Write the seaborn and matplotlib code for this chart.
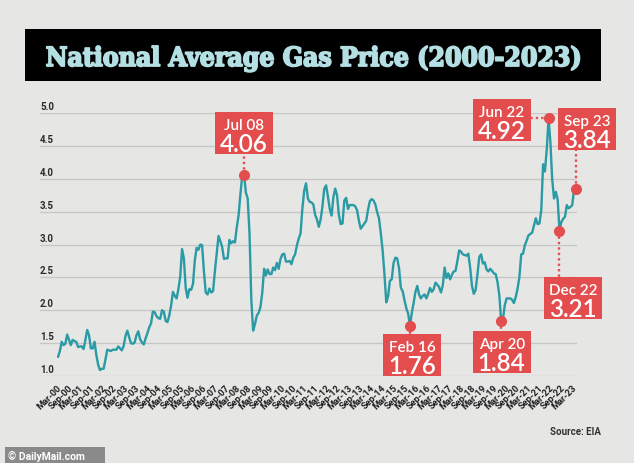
import numpy as np
import pandas as pd
import matplotlib
matplotlib.use('Agg')
import matplotlib.pyplot as plt
import matplotlib.transforms as mtrans
import matplotlib.patheffects as pe
from matplotlib.patches import Rectangle
import seaborn as sns

# monthly national average, regular gas ($/gal), Jan 2000 - Sep 2023
start = '2000-01'
price = [
    1.29, 1.38, 1.52, 1.47, 1.49, 1.63, 1.55, 1.47, 1.55, 1.53, 1.52, 1.44,  # 2000
    1.45, 1.45, 1.41, 1.55, 1.70, 1.62, 1.42, 1.42, 1.52, 1.32, 1.17, 1.09,  # 2001
    1.11, 1.11, 1.25, 1.40, 1.39, 1.38, 1.40, 1.40, 1.40, 1.45, 1.42, 1.39,  # 2002
    1.46, 1.61, 1.69, 1.59, 1.50, 1.49, 1.51, 1.62, 1.68, 1.56, 1.51, 1.48,  # 2003
    1.57, 1.65, 1.74, 1.80, 1.98, 1.97, 1.91, 1.88, 1.87, 2.00, 1.98, 1.84,  # 2004
    1.82, 1.92, 2.07, 2.28, 2.22, 2.18, 2.32, 2.51, 2.93, 2.79, 2.34, 2.19,  # 2005
    2.32, 2.31, 2.40, 2.76, 2.95, 2.92, 3.00, 2.99, 2.59, 2.27, 2.24, 2.33,  # 2006
    2.27, 2.29, 2.59, 2.86, 3.13, 3.05, 2.96, 2.78, 2.79, 2.79, 3.07, 3.02,  # 2007
    3.05, 3.03, 3.26, 3.44, 3.76, 4.05, 4.06, 3.79, 3.70, 3.17, 2.15, 1.69,  # 2008
    1.79, 1.92, 1.96, 2.05, 2.27, 2.63, 2.53, 2.62, 2.55, 2.55, 2.65, 2.61,  # 2009
    2.72, 2.63, 2.78, 2.85, 2.86, 2.74, 2.74, 2.75, 2.70, 2.80, 2.85, 2.99,  # 2010
    3.09, 3.17, 3.55, 3.82, 3.93, 3.70, 3.65, 3.64, 3.61, 3.45, 3.38, 3.27,  # 2011
    3.38, 3.58, 3.85, 3.90, 3.73, 3.54, 3.44, 3.72, 3.85, 3.75, 3.45, 3.31,  # 2012
    3.32, 3.67, 3.71, 3.54, 3.60, 3.60, 3.60, 3.58, 3.52, 3.36, 3.24, 3.28,  # 2013
    3.32, 3.36, 3.53, 3.66, 3.69, 3.67, 3.61, 3.49, 3.40, 3.17, 2.91, 2.55,  # 2014
    2.12, 2.21, 2.45, 2.47, 2.72, 2.80, 2.79, 2.64, 2.34, 2.29, 2.15, 2.03,  # 2015
    1.95, 1.76, 1.96, 2.11, 2.28, 2.37, 2.24, 2.18, 2.22, 2.24, 2.18, 2.25,  # 2016
    2.34, 2.28, 2.32, 2.42, 2.39, 2.35, 2.27, 2.38, 2.65, 2.49, 2.56, 2.47,  # 2017
    2.54, 2.59, 2.60, 2.75, 2.91, 2.89, 2.85, 2.84, 2.83, 2.86, 2.65, 2.37,  # 2018
    2.25, 2.31, 2.54, 2.81, 2.85, 2.71, 2.73, 2.62, 2.59, 2.63, 2.60, 2.56,  # 2019
    2.55, 2.43, 2.23, 1.84, 1.87, 2.08, 2.18, 2.18, 2.18, 2.16, 2.11, 2.20,  # 2020
    2.33, 2.50, 2.85, 2.86, 2.99, 3.06, 3.14, 3.16, 3.18, 3.29, 3.40, 3.31,  # 2021
    3.32, 3.52, 4.22, 4.11, 4.44, 4.92, 4.56, 3.99, 3.70, 3.80, 3.68, 3.21,  # 2022
    3.34, 3.39, 3.42, 3.60, 3.55, 3.57, 3.60, 3.84, 3.84,                    # 2023
]

callout_label = ['Jul 08', 'Feb 16', 'Apr 20', 'Jun 22', 'Dec 22', 'Sep 23']
callout_value = [4.06, 1.76, 1.84, 4.92, 3.21, 3.84]
y_ticks = [1.0, 1.5, 2.0, 2.5, 3.0, 3.5, 4.0, 4.5, 5.0]

months = pd.date_range(start, periods=len(price), freq='MS')
df = pd.DataFrame({'idx': np.arange(len(price)), 'price': price})

tick_dates = [d for d in months if d.month in (3, 9) and d <= pd.Timestamp('2023-03-01')]
tick_labels = [d.strftime('%b-%y') for d in tick_dates]

BG = '#e6e7e5'
TEAL = '#2a9aa4'
RED = '#e34d4e'
TITLE_C = '#b4dfe3'

sns.set_style('white')
plt.rcParams['font.family'] = ['Roboto', 'DejaVu Sans']

fig = plt.figure(figsize=(6.34, 4.64), dpi=100, facecolor=BG)
ax = fig.add_axes([40 / 634, 87 / 464, 537 / 634, 263 / 464], facecolor=BG)

sns.lineplot(x='idx', y='price', data=df, color=TEAL, lw=1.7, ax=ax)

ax.set_xlim(-9.9, 284.6)
ax.set_ylim(1.0, 5.0)
for s in ax.spines.values():
    s.set_visible(False)
ax.set_xlabel('')
ax.set_ylabel('')
ax.set_yticks(y_ticks)
ax.set_yticklabels([])
ax.grid(axis='y', color='#c6c7c5', lw=0.9)
ax.grid(axis='x', visible=False)
ax.tick_params(length=0)

# y labels sit on top of their gridlines
ylab_t = mtrans.offset_copy(ax.get_yaxis_transform(), fig=fig, x=0, y=2, units='dots')
for v in y_ticks:
    ax.text(0, v, f'{v:.1f}', transform=ylab_t, ha='left', va='bottom',
            fontsize=7, fontweight='bold', color='#2b2b2b')

# x labels spread over the line, like the original layout
ax.set_xticks(np.linspace(1.1, 283.5, len(tick_labels)))
ax.set_xticklabels(tick_labels, rotation=45, ha='right', va='center',
                   rotation_mode='anchor', fontsize=6.6, fontweight='bold', color='#1e1e1e')
ax.tick_params(axis='x', pad=7)

# callouts: box centre offset (px), connector end (px)
box_at = {'Jul 08': (0, 42), 'Feb 16': (2, -28.5), 'Apr 20': (0.5, -31.5),
          'Jun 22': (-47, -1.5), 'Dec 22': (13.5, -67.5), 'Sep 23': (11.5, 60.5)}
link_to = {'Jul 08': (0, 21), 'Feb 16': (0, -8), 'Apr 20': (0, -11),
           'Jun 22': (-18, 0), 'Dec 22': (0, -46), 'Sep 23': (0, 39)}
BW, BH = 58, 42

for lab, val in zip(callout_label, callout_value):
    d = pd.to_datetime(lab, format='%b %y')
    i = (d.year - months[0].year) * 12 + d.month - months[0].month
    t = mtrans.Affine2D() + mtrans.ScaledTranslation(i, val, ax.transData)
    cx, cy = box_at[lab]
    lx, ly = link_to[lab]
    ax.plot([0, lx], [0, ly], transform=t, color=RED, lw=1.7,
            ls=(0, (1, 1.3)), clip_on=False, zorder=4)
    ax.add_patch(Rectangle((cx - BW / 2, cy - BH / 2), BW, BH, transform=t,
                           fc=RED, ec='none', clip_on=False, zorder=5))
    ax.text(cx, cy + 4, lab, transform=t, ha='center', va='baseline',
            fontsize=11, fontfamily='Lato', fontweight='semibold', color='white', zorder=6)
    ax.text(cx, cy - 18, f'{val:.2f}', transform=t, ha='center', va='baseline',
            fontsize=17.5, fontfamily='Lato', fontweight='semibold', color='white', zorder=6)
    ax.plot([i], [val], 'o', ms=8, color=RED, mec='none', clip_on=False, zorder=5)

# title bar
fig.patches.append(Rectangle((25 / 634, (464 - 82) / 464), 576 / 634, 52 / 464,
                             transform=fig.transFigure, fc='black', ec='none'))
fig.text(313.5 / 634, (464 - 67) / 464, 'National Average Gas Price (2000-2023)',
         ha='center', va='baseline', fontsize=19, fontfamily='DejaVu Serif',
         fontstretch='condensed', fontweight='bold', color=TITLE_C,
         path_effects=[pe.withStroke(linewidth=1.3, foreground=TITLE_C)])

fig.text(601 / 634, (464 - 435) / 464, 'Source: EIA', ha='right', va='baseline',
         fontsize=7, fontweight='bold', color='#333333')

fig.patches.append(Rectangle((5 / 634, 0), 100 / 634, 16 / 464,
                             transform=fig.transFigure, fc='#8a8a8a', ec='none'))
fig.text(8 / 634, 8 / 464, '\u00a9 DailyMail.com', ha='left', va='center',
         fontsize=7.5, fontweight='bold', color='white')

fig.savefig('out.png', dpi=100, facecolor=BG)
